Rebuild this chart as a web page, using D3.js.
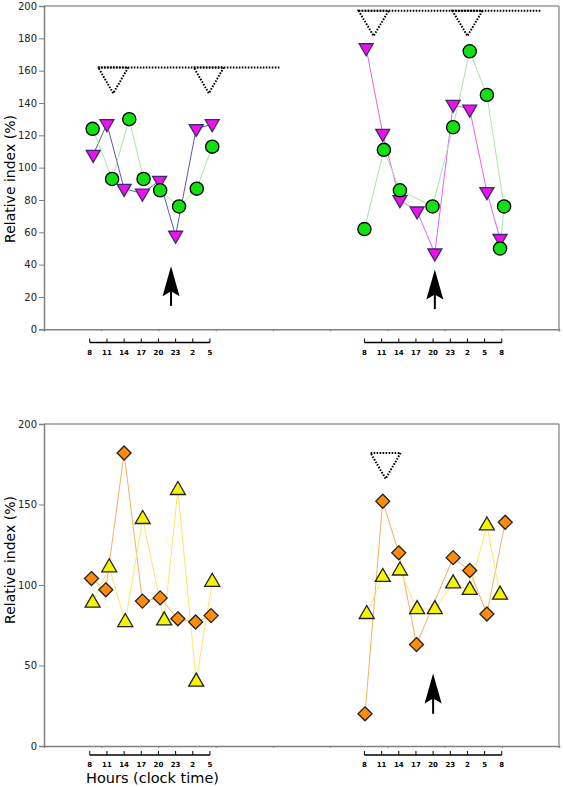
<!DOCTYPE html>
<html><head><meta charset="utf-8">
<script src="https://cdn.jsdelivr.net/npm/d3@7"></script>
<style>html,body{margin:0;padding:0;background:#fff;}svg{display:block;}</style>
</head><body>
<script>
// ---------- data ----------
const xTickHours = [0,10,20,30,40,50,60,70,80,90];
const topYTicks = [0,20,40,60,80,100,120,140,160,180,200];
const bottomYTicks = [0,50,100,150,200];
const leftHourLabels = ["8","11","14","17","20","23","2","5"];
const leftHourPos = [8,11,14,17,20,23,26,29];
const rightHourLabels = ["8","11","14","17","20","23","2","5","8"];
const rightHourPos = [56,59,62,65,68,71,74,77,80];

// top panel, left block
const tlTriHours = [8.6, 11.0, 14.0, 17.2, 20.2, 23.0, 26.6, 29.4];
const tlTriValues = [108, 127, 87, 84, 92, 58, 124, 127];
const tlCircHours = [8.5, 11.9, 14.9, 17.4, 20.3, 23.6, 26.7, 29.4];
const tlCircValues = [124, 93, 130, 93, 86, 76, 87, 113];
// top panel, right block
const trTriHours = [56.3, 59.2, 62.2, 65.2, 68.3, 71.5, 74.4, 77.4, 79.7];
const trTriValues = [174, 121, 80, 73, 47, 139, 136, 85, 56];
const trCircHours = [56.0, 59.4, 62.2, 67.9, 71.5, 74.4, 77.4, 80.4, 79.7];
const trCircValues = [62, 111, 86, 76, 125, 172, 145, 76, 50];
// bottom panel, left block
const blDiaHours = [8.3, 10.8, 14.0, 17.2, 20.3, 23.4, 26.5, 29.2];
const blDiaValues = [104, 97, 182, 90, 92, 79, 77, 81];
const blTriHours = [8.5, 11.4, 14.2, 17.25, 21.0, 23.4, 26.6, 29.4];
const blTriValues = [89, 111, 77, 141, 78, 159, 40, 102];
// bottom panel, right block
const brDiaHours = [56.1, 59.2, 62.0, 65.1, 71.5, 74.4, 77.4, 80.6];
const brDiaValues = [20, 152, 120, 63, 117, 109, 82, 139];
const brTriHours = [56.4, 59.2, 62.2, 65.2, 68.3, 71.5, 74.4, 77.4, 79.7];
const brTriValues = [82, 105, 109, 85, 85, 101, 97, 137, 94];

// dotted significance markers: [hour, top value, apex value]
const topSigMarks = [[12.1, 162, 146], [28.8, 162, 146], [57.6, 197, 181.5], [74.0, 197, 181.5]];
const topSigLines = [[9.4, 41.2, 162], [55.0, 86.9, 197]];
const bottomSigMarks = [[59.7, 182, 166]];
// arrows: [hour, tip value, tail value]
const topArrows = [[22.2, 39, 14.5], [68.3, 37, 12.5]];
const bottomArrows = [[68.0, 45, 20]];

// ---------- drawing ----------
const W = 563, H = 787;
const svg = d3.select("body").append("svg").attr("width", W).attr("height", H);
const x = d3.scaleLinear().domain([0, 90]).range([44, 559]);
const FONT = "DejaVu Sans, sans-serif";

function panel(yTop, yBot, yTicks, barY, labelY, ylabelY) {
  const y = d3.scaleLinear().domain([0, 200]).range([yBot, yTop]);
  const g = svg.append("g");
  g.append("line").attr("x1", x(0)).attr("x2", x(90)).attr("y1", y(200)).attr("y2", y(200))
    .attr("stroke", "#9a9a9a").attr("stroke-width", 1.5);
  g.append("line").attr("x1", x(90)).attr("x2", x(90)).attr("y1", y(200)).attr("y2", y(0))
    .attr("stroke", "#9a9a9a").attr("stroke-width", 1.5);
  const ya = g.append("g").attr("transform", `translate(${x(0)},0)`)
    .call(d3.axisLeft(y).tickValues(yTicks).tickFormat(d3.format("d")).tickSize(5).tickPadding(2));
  ya.select(".domain").attr("stroke", "#808080").attr("stroke-width", 1.5);
  ya.selectAll(".tick line").attr("stroke", "#808080");
  ya.selectAll("text").attr("font-family", FONT).attr("font-size", 10).attr("fill", "#222");
  const xa = g.append("g").attr("transform", `translate(0,${y(0)})`)
    .call(d3.axisBottom(x).tickValues(xTickHours).tickFormat("").tickSize(2));
  xa.select(".domain").attr("stroke", "#808080").attr("stroke-width", 1.5);
  xa.selectAll(".tick line").attr("stroke", "#808080");
  function hourBar(pos, labels) {
    const hb = g.append("g");
    hb.append("line").attr("x1", x(pos[0])).attr("x2", x(pos[pos.length - 1]))
      .attr("y1", barY).attr("y2", barY).attr("stroke", "#000").attr("stroke-width", 1.5);
    hb.selectAll("line.t").data(pos).join("line").attr("class", "t")
      .attr("x1", d => x(d)).attr("x2", d => x(d)).attr("y1", barY).attr("y2", barY - 4)
      .attr("stroke", "#000").attr("stroke-width", 1);
    hb.selectAll("text").data(labels).join("text")
      .attr("x", (d, i) => x(pos[i])).attr("y", labelY).attr("text-anchor", "middle")
      .attr("font-family", FONT).attr("font-size", 7).attr("font-weight", "bold").attr("fill", "#000")
      .text(d => d);
  }
  hourBar(leftHourPos, leftHourLabels);
  hourBar(rightHourPos, rightHourLabels);
  g.append("text").attr("transform", `translate(15,${ylabelY}) rotate(-90)`)
    .attr("text-anchor", "middle").attr("font-family", FONT).attr("font-size", 14).attr("fill", "#000")
    .text("Relative index (%)");
  return { g, y };
}

const topP = panel(6, 329.3, topYTicks, 342.5, 355, 179);
const botP = panel(424, 746, bottomYTicks, 755, 767, 560);

svg.append("text").attr("x", 152.5).attr("y", 783).attr("text-anchor", "middle")
  .attr("font-family", FONT).attr("font-size", 14.5).attr("fill", "#000").text("Hours (clock time)");

const lineGen = (y) => d3.line().x(d => x(d[0])).y(d => y(d[1]));
const zip = (a, b) => a.map((h, i) => [h, b[i]]);

function series(p, hours, vals, lineColor, shape, fill, stroke) {
  const data = zip(hours, vals);
  p.g.append("path").datum(data).attr("d", lineGen(p.y)).attr("fill", "none")
    .attr("stroke", lineColor).attr("stroke-width", 1);
  return () => {
    p.g.append("g").selectAll("path").data(data).join("path")
      .attr("transform", d => `translate(${x(d[0])},${p.y(d[1])})`)
      .attr("d", shape).attr("fill", fill).attr("stroke", stroke).attr("stroke-width", 1.3);
  };
}
const circleShape = d3.symbol().type(d3.symbolCircle).size(Math.PI * 6.6 * 6.6)();
const triDown = "M-7,-4.3L7,-4.3L0,7.7Z";
const triUp = "M-7.5,4.5L7.5,4.5L0,-8.5Z";
const diamond = "M0,-7L7,0L0,7L-7,0Z";

const m1 = series(topP, tlTriHours, tlTriValues, "#5a5aa8", triDown, "#ee11ee", "#3b2a66");
const m2 = series(topP, tlCircHours, tlCircValues, "#a8e6a8", circleShape, "#11e011", "#000");
const m3 = series(topP, trTriHours, trTriValues, "#e860e8", triDown, "#ee11ee", "#3b2a66");
const m4 = series(topP, trCircHours, trCircValues, "#a8e6a8", circleShape, "#11e011", "#000");
const m5 = series(botP, blDiaHours, blDiaValues, "#f2b060", diamond, "#ff8c0a", "#222");
const m6 = series(botP, blTriHours, blTriValues, "#fbe86a", triUp, "#f5f500", "#222");
const m7 = series(botP, brDiaHours, brDiaValues, "#f2b060", diamond, "#ff8c0a", "#222");
const m8 = series(botP, brTriHours, brTriValues, "#fbe86a", triUp, "#f5f500", "#222");
[m1, m3, m2, m4, m5, m7, m6, m8].forEach(f => f());

function sig(p, marks, lines) {
  const HW = 15;
  p.g.selectAll(null).data(lines).join("line")
    .attr("x1", d => x(d[0])).attr("x2", d => x(d[1])).attr("y1", d => p.y(d[2])).attr("y2", d => p.y(d[2]))
    .attr("stroke", "#000").attr("stroke-width", 2).attr("stroke-dasharray", "1.6,1.4");
  p.g.selectAll(null).data(marks).join("path")
    .attr("d", d => `M${x(d[0]) - HW},${p.y(d[1])}L${x(d[0]) + HW},${p.y(d[1])}L${x(d[0])},${p.y(d[2])}Z`)
    .attr("fill", "none").attr("stroke", "#000").attr("stroke-width", 2).attr("stroke-dasharray", "1.6,1.4");
}
sig(topP, topSigMarks, topSigLines);
sig(botP, bottomSigMarks, []);

function arrows(p, arr) {
  arr.forEach(a => {
    const cx = x(a[0]), tip = p.y(a[1]), tail = p.y(a[2]);
    p.g.append("line").attr("x1", cx).attr("x2", cx).attr("y1", tip + 20).attr("y2", tail)
      .attr("stroke", "#000").attr("stroke-width", 2);
    p.g.append("path")
      .attr("d", `M${cx},${tip}L${cx + 8.5},${tip + 30}L${cx},${tip + 25}L${cx - 8.5},${tip + 30}Z`)
      .attr("fill", "#000");
  });
}
arrows(topP, topArrows);
arrows(botP, bottomArrows);
</script>
</body></html>
